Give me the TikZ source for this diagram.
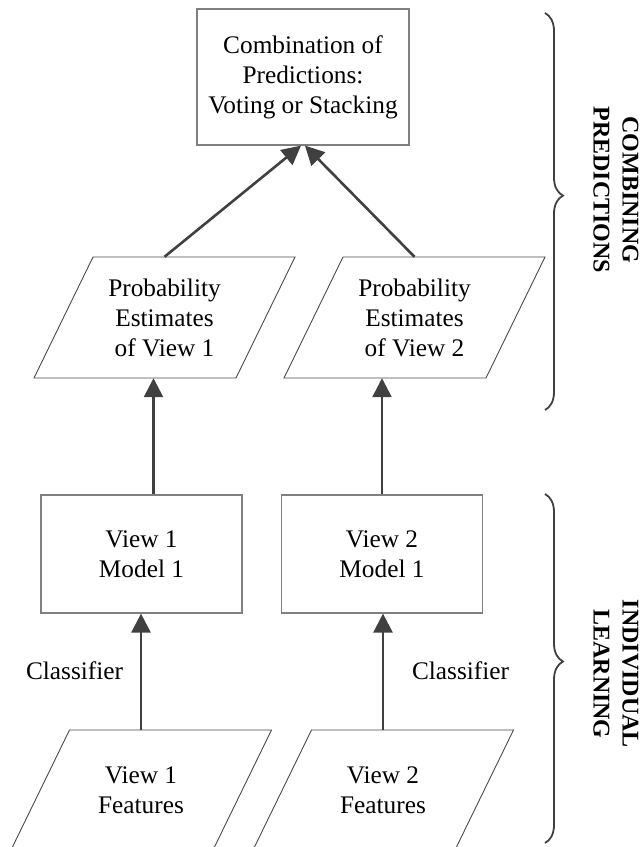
\documentclass[tikz,border=0pt]{standalone}
\usepackage{fontspec}
\setmainfont{Liberation Serif}
\usetikzlibrary{arrows.meta,calc,decorations.pathreplacing}

\definecolor{arrowgray}{HTML}{404040}
\definecolor{boxgray}{HTML}{808080}
\definecolor{paragray}{HTML}{4A4A4A}

% parallelogram drawn around a (text) node: 121pt high, 202pt wide, slanted right
\newcommand\drawpara[1]{%
  \draw[paraline] ($(#1)+(-71.5,-60.5)$) -- ($(#1)+(130.5,-60.5)$)
    -- ($(#1)+(71.5,60.5)$) -- ($(#1)+(-130.5,60.5)$) -- cycle;}

\begin{document}
\begin{tikzpicture}[x=1pt,y=-1pt,
  lbl/.style={font=\fontsize{25.3}{30}\selectfont, align=center, inner sep=0pt},
  stepbox/.style={lbl, draw=boxgray, line width=1.2pt,
    minimum width=201pt, minimum height=118pt},
  paratext/.style={lbl, minimum width=143pt, minimum height=121pt},
  paraline/.style={draw=paragray, line width=0.9pt},
  arr/.style={draw=arrowgray, line width=2.6pt,
    -{Triangle[length=19pt,width=19pt]}},
  bracestyle/.style={draw=arrowgray, line width=1.8pt, decorate},
  sidelbl/.style={font=\bfseries\fontsize{24}{29}\selectfont,
    align=center, inner sep=0pt, rotate=-90}]

\clip (0,0) rectangle (641,847);

% combination stage
\node[stepbox, minimum width=212pt, minimum height=136pt] (comb) at (303,77)
  {Combination of\\Predictions:\\Voting or Stacking};

\node[paratext] (p1) at (164.5,317.5) {Probability\\Estimates\\of View 1};
\node[paratext] (p2) at (414.5,317.5) {Probability\\Estimates\\of View 2};
\drawpara{p1}
\drawpara{p2}

% individual models
\node[stepbox] (m1) at (141.5,554) {View 1\\Model 1};
\node[stepbox] (m2) at (382,554) {View 2\\Model 1};

% feature sets
\node[paratext] (f1) at (141,790.5) {View 1\\Features};
\node[paratext] (f2) at (383,790.5) {View 2\\Features};
\drawpara{f1}
\drawpara{f2}

% connectors
\draw[arr] (p1.north) -- ([xshift=-2pt]comb.south);
\draw[arr] (p2.north) -- ([xshift=2pt]comb.south);
\draw[arr] ([xshift=12pt]m1.north) -- ([xshift=12pt]m1.north |- p1.south);
\draw[arr] (m2.north) -- (m2.north |- p2.south);
\draw[arr] (f1.north) -- (f1.north |- m1.south);
\draw[arr] (f2.north) -- (f2.north |- m2.south);

\node[lbl, anchor=base] (c1) at (74.5,679) {Classifier};
\node[lbl, anchor=base] (c2) at (460.5,679) {Classifier};

% stage braces
\coordinate (b1s) at (545,13);
\coordinate (b1e) at (545,410);
\coordinate (b2s) at (545,494);
\coordinate (b2e) at (545,843);
\draw[bracestyle, decoration={brace, amplitude=18pt, aspect=0.46}] (b1s) -- (b1e);
\draw[bracestyle, decoration={brace, amplitude=18pt, aspect=0.48}] (b2s) -- (b2e);

\node[sidelbl] (s1) at (616,190) {COMBINING\\PREDICTIONS};
\node[sidelbl] (s2) at (616,674) {INDIVIDUAL\\LEARNING};
\end{tikzpicture}
\end{document}
